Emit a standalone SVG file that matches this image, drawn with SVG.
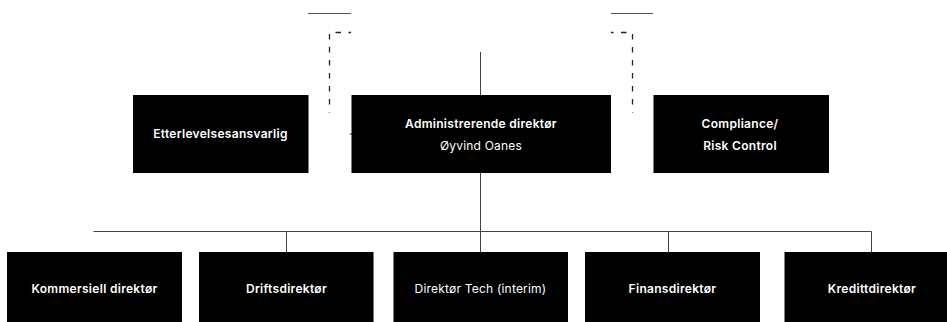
<svg xmlns="http://www.w3.org/2000/svg" width="947" height="322" viewBox="0 0 947 322">
<style>
.box{fill:#000}
.t{font-family:Inter,"Liberation Sans",sans-serif;font-size:12px;fill:#fff;text-anchor:middle;font-weight:600;letter-spacing:0.3px}
.r{font-weight:400;letter-spacing:0.2px}
.ln{stroke:#444;stroke-width:1;fill:none}
.lt{stroke:#555;stroke-width:1.2;fill:none}
.ds{stroke:#222;stroke-width:1.3;fill:none;stroke-dasharray:5.5 7.5;stroke-dashoffset:3}
</style>
<rect width="947" height="322" fill="#fff"/>
<g id="connectors">
<path class="lt" d="M308,13.5 H351"/>
<path class="lt" d="M611,13.5 H653"/>
<path class="ds" d="M351,32.5 H329.5 V112.5"/>
<path class="ln" d="M349.5,134 H352"/>
<path class="ds" d="M611,32.5 H632.5 V112.5"/>
<path class="ln" d="M480.5,52 V95"/>
<path class="ln" d="M480.5,173 V252"/>
<path class="ln" d="M93.5,231.5 H871.5"/>
<path class="ln" d="M286.5,231.5 V252"/>
<path class="ln" d="M668.5,231.5 V252"/>
<path class="ln" d="M871.5,231.5 V252"/>
</g>
<g id="etterlevelse">
<rect class="box" x="133" y="95" width="175.5" height="78"/>
<text class="t" x="220.5" y="138.3">Etterlevelsesansvarlig</text>
</g>
<g id="ceo">
<rect class="box" x="351.5" y="95" width="259.5" height="78"/>
<text class="t" x="481" y="127.5">Administrerende direktør</text>
<text class="t r" x="481" y="150">Øyvind Oanes</text>
</g>
<g id="compliance">
<rect class="box" x="653.5" y="95" width="175.5" height="78"/>
<text class="t" x="740" y="127.5">Compliance/</text>
<text class="t" x="740" y="150">Risk Control</text>
</g>
<g id="kommersiell">
<rect class="box" x="7" y="252" width="175" height="78"/>
<text class="t" x="94.5" y="293.3">Kommersiell direktør</text>
</g>
<g id="drift">
<rect class="box" x="199" y="252" width="174.5" height="78"/>
<text class="t" x="286.5" y="293.3">Driftsdirektør</text>
</g>
<g id="tech">
<rect class="box" x="393.5" y="252" width="174.5" height="78"/>
<text class="t r" x="480.5" y="293.3">Direktør Tech (interim)</text>
</g>
<g id="finans">
<rect class="box" x="585" y="252" width="175" height="78"/>
<text class="t" x="672.5" y="293.3">Finansdirektør</text>
</g>
<g id="kreditt">
<rect class="box" x="784.5" y="252" width="175" height="78"/>
<text class="t" x="872" y="293.3">Kredittdirektør</text>
</g>
</svg>
